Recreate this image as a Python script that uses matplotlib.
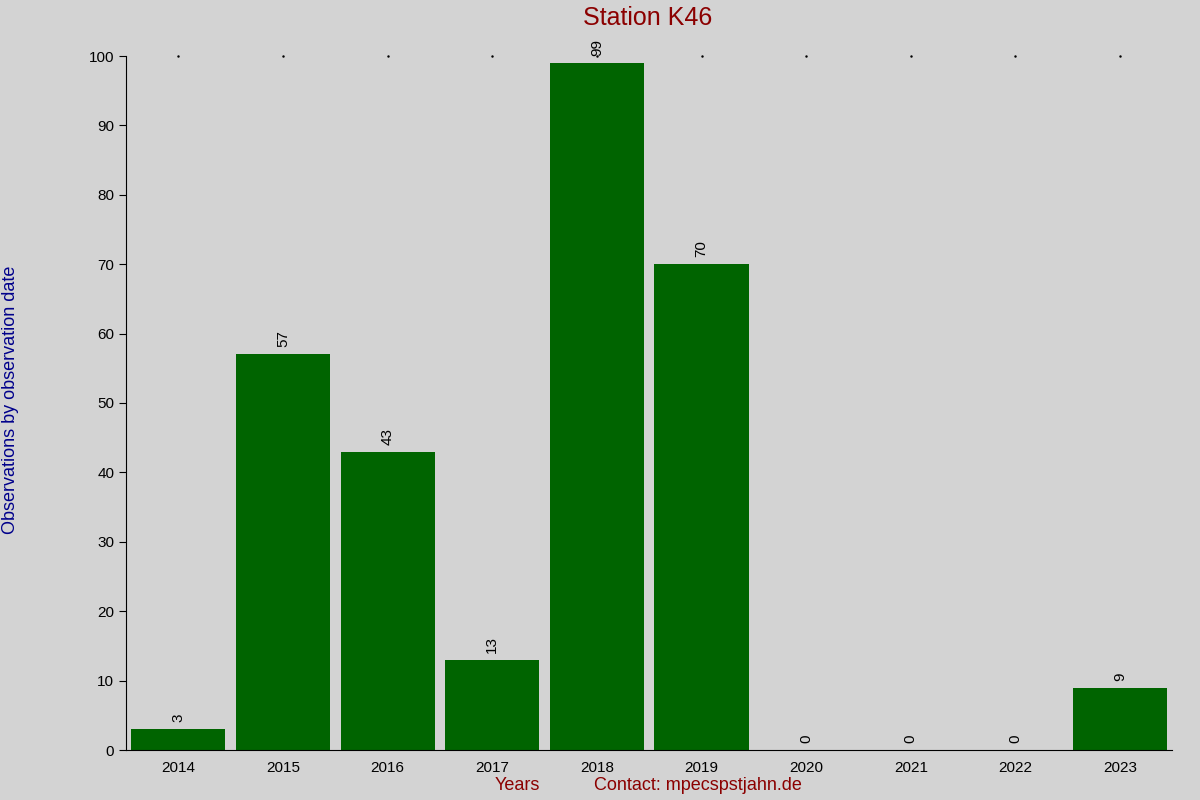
import matplotlib
matplotlib.use("Agg")
import matplotlib.pyplot as plt
import numpy as np

years = ["2014", "2015", "2016", "2017", "2018", "2019", "2020", "2021", "2022", "2023"]
counts = [3, 57, 43, 13, 99, 70, 0, 0, 0, 9]

plt.rcParams["font.family"] = ["Liberation Sans", "DejaVu Sans"]
bg = "#d3d3d3"

fig = plt.figure(figsize=(12, 8), dpi=100, facecolor=bg)
ax = fig.add_axes([0.105, 0.0625, 0.872, 0.8675], facecolor=bg)

x = np.arange(len(years))
ax.bar(x, counts, width=0.9, color="#006400")
for xi, v in zip(x, counts):
    ax.text(xi, v + 1, str(v), rotation=90, ha="center", va="bottom", fontsize=11)

ax.set_xlim(-0.5, len(years) - 0.5)
ax.set_ylim(0, 100)
ax.set_yticks(range(0, 101, 10))
ax.set_xticks(x)
ax.set_xticklabels(years)
ax.tick_params(axis="both", labelsize=11, direction="out", length=5)
ax.tick_params(axis="x", length=0, pad=8)
for xi in x:
    ax.plot(xi, 100, marker=".", markersize=1.5, color="black", clip_on=False)
for s in ("top", "right"):
    ax.spines[s].set_visible(False)

fig.text(0.54, 0.978, "Station K46", ha="center", va="center", fontsize=18, color="#8b0000")
fig.text(0.009, 0.5, "Observations by observation date", rotation=90, ha="center", va="center",
         fontsize=13, color="#00008b")
fig.text(0.431, 0.0175, "Years", ha="center", va="center", fontsize=13, color="#8b0000")
fig.text(0.582, 0.0175, "Contact: mpecspstjahn.de", ha="center", va="center", fontsize=13, color="#8b0000")

fig.savefig("out.png", dpi=100, facecolor=bg)
